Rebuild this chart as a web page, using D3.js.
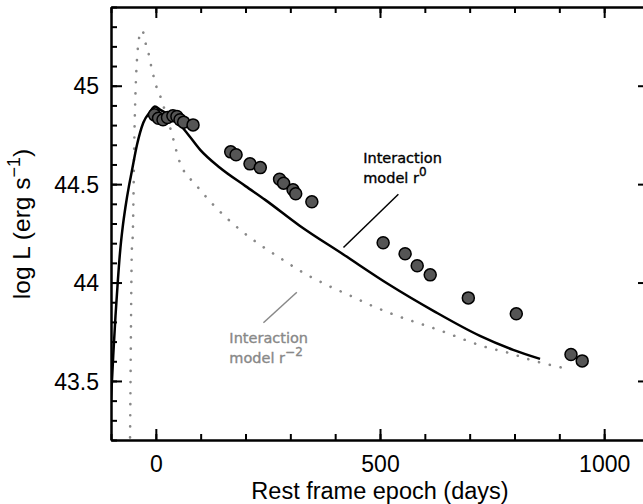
<!DOCTYPE html>
<html>
<head>
<meta charset="UTF-8">
<title>light curve</title>
<style>
  body{ margin: 0; background: #fff; }
  .axis path, .axis line{ stroke: #000; stroke-width: 2; }
  .axis text{ font-family: "Liberation Sans", Arial, sans-serif; font-size: 23px; fill: #000; }
  .note{ font-family: "DejaVu Sans", sans-serif; font-size: 14.5px; stroke-width: 0.35; }
</style>
<script src="https://cdn.jsdelivr.net/npm/d3@7"></script>
</head>
<body>
<div id="canvas"></div>
<script>
// observed points
var obsDay  = [-3, 6, 16, 26, 38, 47, 54, 62, 83, 167, 179, 210, 233, 276, 285, 306, 312, 348, 507, 556, 583, 612, 697, 804, 926, 951];
var obsLogL = [44.852, 44.835, 44.827, 44.839, 44.847, 44.844, 44.827, 44.815, 44.801, 44.664, 44.649, 44.603, 44.584, 44.525, 44.505, 44.471, 44.451, 44.41, 44.202, 44.146, 44.085, 44.039, 43.922, 43.841, 43.634, 43.602];

// interaction model r^0 (solid)
var r0Day  = [-100, -95, -90, -85, -80, -74, -68, -60, -54, -42, -28, -13, -2, 10, 39, 69, 99, 143, 200, 244, 320, 420, 520, 620, 723, 797, 857];
var r0LogL = [43.403, 43.63, 43.83, 44.0, 44.15, 44.28, 44.38, 44.49, 44.56, 44.7, 44.812, 44.867, 44.894, 44.877, 44.837, 44.761, 44.674, 44.583, 44.49, 44.42, 44.29, 44.14, 43.99, 43.855, 43.729, 43.658, 43.612];

// interaction model r^-2 (dotted)
var r2Day  = [-58, -57.3, -53.5, -51.3, -47.7, -44.6, -41, -36.6, -30, -24, -16.5, -11, -5, 2, 13, 23, 32, 54, 82, 99, 114, 132, 188, 233, 277, 337, 381, 430, 478, 523, 630, 738, 788, 836, 886, 911];
var r2LogL = [43.1, 43.266, 44.166, 44.252, 44.761, 45.015, 45.167, 45.25, 45.281, 45.225, 45.167, 45.106, 45.047, 44.99, 44.928, 44.85, 44.786, 44.608, 44.513, 44.471, 44.43, 44.386, 44.268, 44.191, 44.125, 44.039, 43.988, 43.937, 43.886, 43.844, 43.76, 43.671, 43.642, 43.607, 43.578, 43.565];

// axis ticks
var xMajor = [0, 500, 1000];
var yMajor = [43.5, 44, 44.5, 45];

var outerWidth = 643, outerHeight = 504;

var x = d3.scaleLinear().domain([-100, 1100]).range([111, 649]);
var y = d3.scaleLinear().domain([43.2, 45.4]).range([440, 7]);

var xMinor = d3.range(-100, 1101, 100);
var yMinor = d3.range(432, 455).map(function(v){ return v / 10; });

var svg = d3.select("#canvas").append("svg")
  .attr("width", outerWidth)
  .attr("height", outerHeight);

svg.append("defs").append("clipPath").attr("id", "clip")
  .append("rect")
  .attr("x", x(-100)).attr("y", y(45.4))
  .attr("width", x(1100) - x(-100)).attr("height", y(43.2) - y(45.4));

var plot = svg.append("g").attr("clip-path", "url(#clip)");

var line = d3.line()
  .x(function(d){ return x(d[0]); })
  .y(function(d){ return y(d[1]); })
  .curve(d3.curveMonotoneX);

// dotted model
plot.append("path")
  .datum(d3.zip(r2Day, r2LogL))
  .attr("d", line)
  .attr("fill", "none")
  .attr("stroke", "#888")
  .attr("stroke-width", 2.6)
  .attr("stroke-linecap", "round")
  .attr("stroke-dasharray", "0.1 11");

// solid model
plot.append("path")
  .datum(d3.zip(r0Day, r0LogL))
  .attr("d", line)
  .attr("fill", "none")
  .attr("stroke", "#000")
  .attr("stroke-width", 2.5);

plot.selectAll(".pt")
  .data(d3.zip(obsDay, obsLogL))
  .enter().append("circle")
  .attr("class", "pt")
  .attr("cx", function(d){ return x(d[0]); })
  .attr("cy", function(d){ return y(d[1]); })
  .attr("r", 6)
  .attr("fill", "#555")
  .attr("stroke", "#000")
  .attr("stroke-width", 1.5);

// axes (ticks point inward on all four sides)
function noLabel(a){ return a.tickFormat(""); }

svg.append("g").attr("class", "axis")
  .attr("transform", "translate(0," + y(43.2) + ")")
  .call(noLabel(d3.axisBottom(x).tickValues(xMinor).tickSize(-6).tickSizeOuter(0)));
svg.append("g").attr("class", "axis")
  .attr("transform", "translate(0," + y(43.2) + ")")
  .call(d3.axisBottom(x).tickValues(xMajor).tickSize(-11).tickSizeOuter(0).tickFormat(d3.format("d")))
  .call(function(g){ g.selectAll("text").attr("y", 31.6).attr("dy", null); });

svg.append("g").attr("class", "axis")
  .attr("transform", "translate(0," + y(45.4) + ")")
  .call(noLabel(d3.axisTop(x).tickValues(xMinor).tickSize(-6).tickSizeOuter(0)));
svg.append("g").attr("class", "axis")
  .attr("transform", "translate(0," + y(45.4) + ")")
  .call(noLabel(d3.axisTop(x).tickValues(xMajor).tickSize(-11).tickSizeOuter(0)));

svg.append("g").attr("class", "axis")
  .attr("transform", "translate(" + x(-100) + ",0)")
  .call(noLabel(d3.axisLeft(y).tickValues(yMinor).tickSize(-6).tickSizeOuter(0)));
svg.append("g").attr("class", "axis")
  .attr("transform", "translate(" + x(-100) + ",0)")
  .call(d3.axisLeft(y).tickValues(yMajor).tickSize(-11).tickSizeOuter(0).tickPadding(12).tickFormat(d3.format("")))
  .call(function(g){ g.selectAll("text").attr("dy", "0.35em"); });

svg.append("g").attr("class", "axis")
  .attr("transform", "translate(" + x(1100) + ",0)")
  .call(noLabel(d3.axisRight(y).tickValues(yMinor).tickSize(-6).tickSizeOuter(0)));
svg.append("g").attr("class", "axis")
  .attr("transform", "translate(" + x(1100) + ",0)")
  .call(noLabel(d3.axisRight(y).tickValues(yMajor).tickSize(-11).tickSizeOuter(0)));

// axis titles
svg.append("text")
  .attr("x", (x(-100) + x(1100)) / 2)
  .attr("y", 499)
  .attr("text-anchor", "middle")
  .style("font-family", "'Liberation Sans', Arial, sans-serif")
  .style("font-size", "23.5px")
  .text("Rest frame epoch (days)");

var yt = svg.append("text")
  .attr("transform", "translate(30,224) rotate(-90)")
  .attr("text-anchor", "middle")
  .style("font-family", "'Liberation Sans', Arial, sans-serif")
  .style("font-size", "24.5px");
yt.append("tspan").text("log L (erg s");
yt.append("tspan").attr("dy", -10).style("font-size", "18px").text("\u22121");
yt.append("tspan").attr("dy", 10).text(")");

// annotations
function note(day, logL, color, sup){
  var t = svg.append("text").attr("class", "note")
    .attr("fill", color).attr("stroke", color)
    .attr("x", x(day)).attr("y", y(logL));
  t.append("tspan").attr("x", x(day)).text("Interaction");
  t.append("tspan").attr("x", x(day)).attr("dy", 20).text("model  r");
  t.append("tspan").attr("dy", -7).style("font-size", "12px").text(sup);
}
note(462.5, 44.608, "#000", "0");
note(164, 43.695, "#888", "\u22122");

svg.append("line")
  .attr("x1", x(541)).attr("y1", y(44.449))
  .attr("x2", x(418.5)).attr("y2", y(44.178))
  .attr("stroke", "#000").attr("stroke-width", 1.5);
svg.append("line")
  .attr("x1", x(314.5)).attr("y1", y(43.951))
  .attr("x2", x(240)).attr("y2", y(43.796))
  .attr("stroke", "#888").attr("stroke-width", 1.5);
</script>
</body>
</html>
